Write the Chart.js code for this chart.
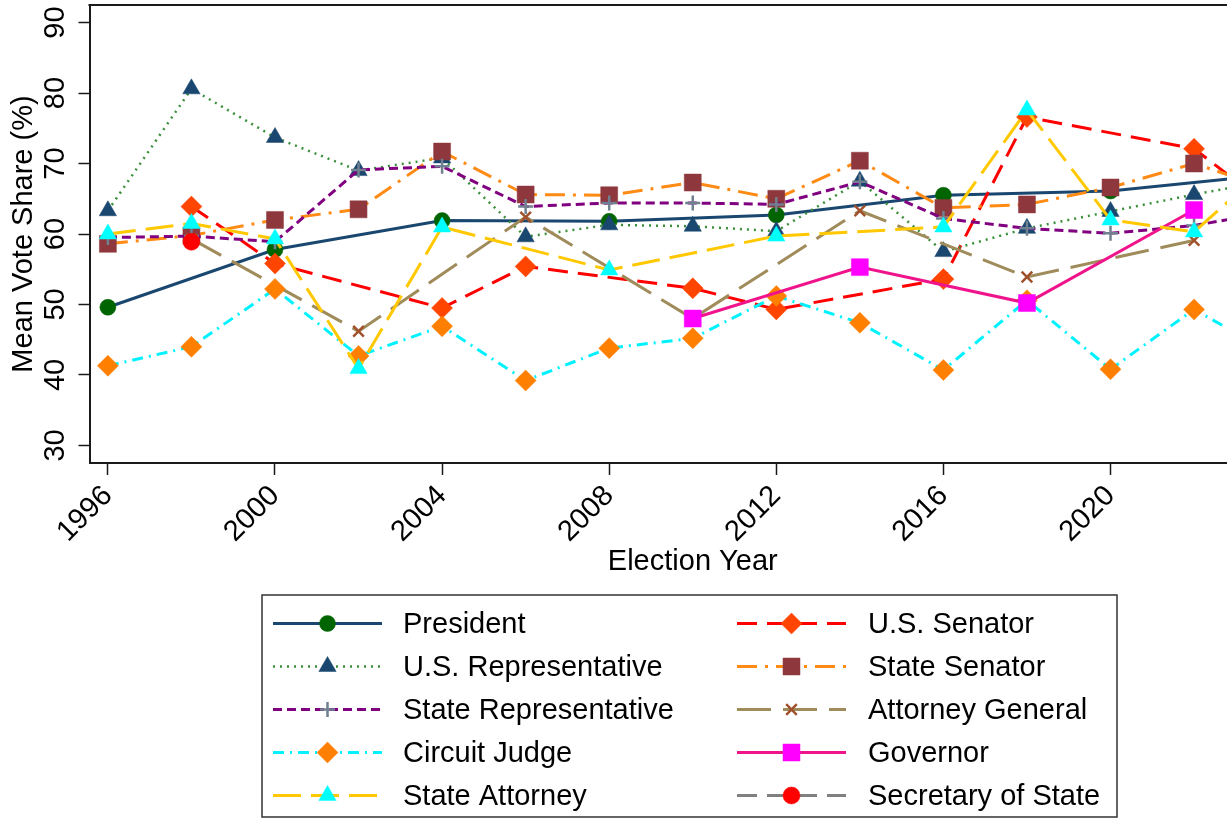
<!DOCTYPE html>
<html>
<head>
<meta charset="utf-8">
<script src="https://cdn.jsdelivr.net/npm/chart.js@4/dist/chart.umd.min.js"></script>
<style>
  html, body { margin: 0; padding: 0; background: #fff; overflow: hidden; }
  #wrap { width: 1310px; height: 820px; }
</style>
</head>
<body>
<div id="wrap"><canvas id="c" width="1310" height="820"></canvas></div>
<script>
// Election years and mean vote share (%) by office
const years = [1996, 1998, 2000, 2002, 2004, 2006, 2008, 2010, 2012, 2014, 2016, 2018, 2020, 2022, 2024];
const president           = [49.6, null, 57.8, null, 61.9, null, 61.8, null, 62.7, null, 65.5, null, 66.1, null, 68.5];
const usRepresentative    = [63.3, 80.6, 73.7, 69.0, 70.8, 59.6, 61.3, 61.1, 60.4, 67.5, 57.5, 60.8, 63.2, 65.6, 67.8];
const stateRepresentative = [59.5, 59.7, 58.9, 69.1, 69.6, 63.9, 64.4, 64.4, 64.2, 67.4, 62.2, 60.8, 60.1, 61.2, 63.3];
const circuitJudge        = [41.3, 44.0, 52.2, 42.7, 46.9, 39.2, 43.8, 45.2, 51.2, 47.4, 40.7, 50.6, 40.8, 49.3, 42.6];
const stateAttorney       = [60.0, 61.5, 59.3, 40.9, 61.0, null, 54.9, null, 59.7, null, 61.0, 77.6, 62.0, 60.3, 70.8];
const usSenator           = [null, 63.9, 55.8, null, 49.5, 55.4, null, 52.3, 49.3, null, 53.6, 76.6, null, 72.1, 63.0];
const stateSenator        = [58.6, 59.8, 62.0, 63.5, 71.7, 65.6, 65.5, 67.3, 65.0, 70.4, 63.7, 64.2, 66.6, 70.0, 66.1];
const attorneyGeneral     = [null, 59.3, null, 46.2, null, 62.4, null, 48.0, null, 63.3, null, 53.9, null, 59.1, null];
const governor            = [null, null, null, null, null, null, null, 48.0, null, 55.3, null, 50.2, null, 63.4, null];
const secretaryOfState    = [null, 58.9, null, null, null, null, null, null, null, null, null, null, null, null, null];

const xTicks = [1996, 2000, 2004, 2008, 2012, 2016, 2020, 2024];
const yTicks = [30, 40, 50, 60, 70, 80, 90];

const FONT = '"Liberation Sans", Arial, Helvetica, sans-serif';
const FONT_SIZE = 29;

function pts(vals) {
  return years.map((yr, i) => ({ x: yr, y: vals[i] })).filter(p => p.y !== null);
}

// series in drawing order (first one ends up underneath)
const series = [
  { label: 'President', data: president, line: '#1a476f', dash: [], width: 3,
    marker: '#006400', style: 'circle', radius: 8 },
  { label: 'U.S. Senator', data: usSenator, line: '#ff0000', dash: [20, 10], width: 3,
    marker: '#ff4500', style: 'rectRot', radius: 10.5 },
  { label: 'U.S. Representative', data: usRepresentative, line: '#3a8f3a', dash: [2, 5], width: 2.5,
    marker: '#1a476f', style: 'triangle', radius: 10 },
  { label: 'State Senator', data: stateSenator, line: '#ff8a14', dash: [20, 8, 3, 8], width: 3,
    marker: '#8e383e', style: 'rect', radius: 12 },
  { label: 'State Representative', data: stateRepresentative, line: '#800080', dash: [9, 5], width: 3,
    marker: '#708090', style: 'cross', radius: 7.5 },
  { label: 'Attorney General', data: attorneyGeneral, line: '#a08b5b', dash: [34, 12], width: 3,
    marker: '#a0522d', style: 'crossRot', radius: 7.5 },
  { label: 'Circuit Judge', data: circuitJudge, line: '#00f2ff', dash: [11, 6, 2, 6], width: 3,
    marker: '#ff7f00', style: 'rectRot', radius: 10.5 },
  { label: 'Governor', data: governor, line: '#f0148c', dash: [], width: 3,
    marker: '#ff00ff', style: 'rect', radius: 12 },
  { label: 'State Attorney', data: stateAttorney, line: '#ffc800', dash: [28, 10], width: 3,
    marker: '#00ffff', style: 'triangle', radius: 10 },
  { label: 'Secretary of State', data: secretaryOfState, line: '#808080', dash: [20, 10], width: 3,
    marker: '#ff0000', style: 'circle', radius: 8.5 }
];

// legend layout: two columns, listed top to bottom
const legendLeftCol = ['President', 'U.S. Representative', 'State Representative', 'Circuit Judge', 'State Attorney'];
const legendRightCol = ['U.S. Senator', 'State Senator', 'Attorney General', 'Governor', 'Secretary of State'];

const datasets = series.map((s, i) => {
  const stroked = s.style === 'cross' || s.style === 'crossRot';
  return {
    label: s.label,
    data: pts(s.data),
    borderColor: s.line,
    borderWidth: s.width,
    borderDash: s.dash,
    borderCapStyle: 'butt',
    tension: 0,
    spanGaps: true,
    fill: false,
    pointStyle: s.style,
    pointRadius: s.radius,
    pointHoverRadius: s.radius,
    pointBackgroundColor: s.marker,
    pointBorderColor: s.marker,
    pointBorderWidth: stroked ? 2.5 : 0.5,
    order: series.length - i
  };
});

function drawMarker(ctx, s, x, y) {
  const stroked = s.style === 'cross' || s.style === 'crossRot';
  ctx.save();
  ctx.setLineDash([]);
  ctx.fillStyle = s.marker;
  ctx.strokeStyle = s.marker;
  ctx.lineWidth = stroked ? 2.5 : 0.5;
  Chart.helpers.drawPoint(ctx, { pointStyle: s.style, rotation: 0, radius: s.radius, borderWidth: ctx.lineWidth }, x, y);
  ctx.restore();
}

const framePlugin = {
  id: 'frameAndLegend',
  afterDraw(chart) {
    const ctx = chart.ctx;
    const a = chart.chartArea;
    // top edge of the plot frame
    ctx.save();
    ctx.strokeStyle = '#1a1a1a';
    ctx.lineWidth = 2;
    ctx.beginPath();
    ctx.moveTo(a.left - 1, a.top);
    ctx.lineTo(a.right, a.top);
    ctx.stroke();
    ctx.restore();

    // legend box
    const box = { x: 262, y: 595, w: 855, h: 222 };
    ctx.save();
    ctx.strokeStyle = '#333';
    ctx.lineWidth = 1.5;
    ctx.strokeRect(box.x, box.y, box.w, box.h);
    ctx.restore();

    const rowY0 = 623.5, rowGap = 43;
    const cols = [
      { names: legendLeftCol, x1: 273, x2: 382, text: 403 },
      { names: legendRightCol, x1: 737, x2: 846, text: 868 }
    ];
    cols.forEach(col => {
      col.names.forEach((name, r) => {
        const s = series.find(q => q.label === name);
        const y = rowY0 + r * rowGap;
        ctx.save();
        ctx.strokeStyle = s.line;
        ctx.lineWidth = s.width;
        ctx.lineCap = 'butt';
        ctx.setLineDash(s.dash);
        ctx.beginPath();
        ctx.moveTo(col.x1, y);
        ctx.lineTo(col.x2, y);
        ctx.stroke();
        ctx.restore();
        drawMarker(ctx, s, (col.x1 + col.x2) / 2, y);
        ctx.save();
        ctx.fillStyle = '#000';
        ctx.font = FONT_SIZE + 'px ' + FONT;
        ctx.textBaseline = 'middle';
        ctx.textAlign = 'left';
        ctx.fillText(name, col.text, y + 1);
        ctx.restore();
      });
    });
  }
};

new Chart(document.getElementById('c'), {
  type: 'line',
  data: { datasets },
  options: {
    responsive: false,
    animation: false,
    devicePixelRatio: 1,
    layout: { autoPadding: false, padding: { left: 0, top: 5, right: 14, bottom: 241 } },
    plugins: { legend: { display: false }, tooltip: { enabled: false } },
    scales: {
      x: {
        type: 'linear',
        min: 1995.56,
        max: 2024.44,
        afterBuildTicks: sc => { sc.ticks = xTicks.map(v => ({ value: v })); },
        afterFit: sc => { sc.height = 116; sc.paddingLeft = 0; sc.paddingRight = 0; },
        ticks: {
          minRotation: 45, maxRotation: 45, autoSkip: false,
          padding: 4,
          color: '#000',
          font: { family: FONT, size: FONT_SIZE },
          callback: v => String(v)
        },
        grid: { drawOnChartArea: false, drawTicks: true, tickLength: 12, tickWidth: 1.5, tickColor: '#1a1a1a', color: '#1a1a1a' },
        border: { display: true, color: '#1a1a1a', width: 2 },
        title: { display: true, text: 'Election Year', color: '#000',
                 font: { family: FONT, size: FONT_SIZE }, padding: { top: 0, bottom: 0 } }
      },
      y: {
        min: 27.5,
        max: 92.5,
        afterBuildTicks: sc => { sc.ticks = yTicks.map(v => ({ value: v })); },
        afterFit: sc => { sc.width = 89.5; sc.paddingTop = 0; sc.paddingBottom = 0; },
        ticks: {
          minRotation: 90, maxRotation: 90,
          crossAlign: 'center',
          padding: 6,
          color: '#000',
          font: { family: FONT, size: FONT_SIZE },
          callback: v => String(v)
        },
        grid: { drawOnChartArea: false, drawTicks: true, tickLength: 11, tickWidth: 1.5, tickColor: '#1a1a1a', color: '#1a1a1a' },
        border: { display: true, color: '#1a1a1a', width: 2 },
        title: { display: true, text: 'Mean Vote Share (%)', color: '#000',
                 font: { family: FONT, size: FONT_SIZE }, padding: { top: 7, bottom: 0 } }
      }
    }
  },
  plugins: [framePlugin]
});
</script>
</body>
</html>
